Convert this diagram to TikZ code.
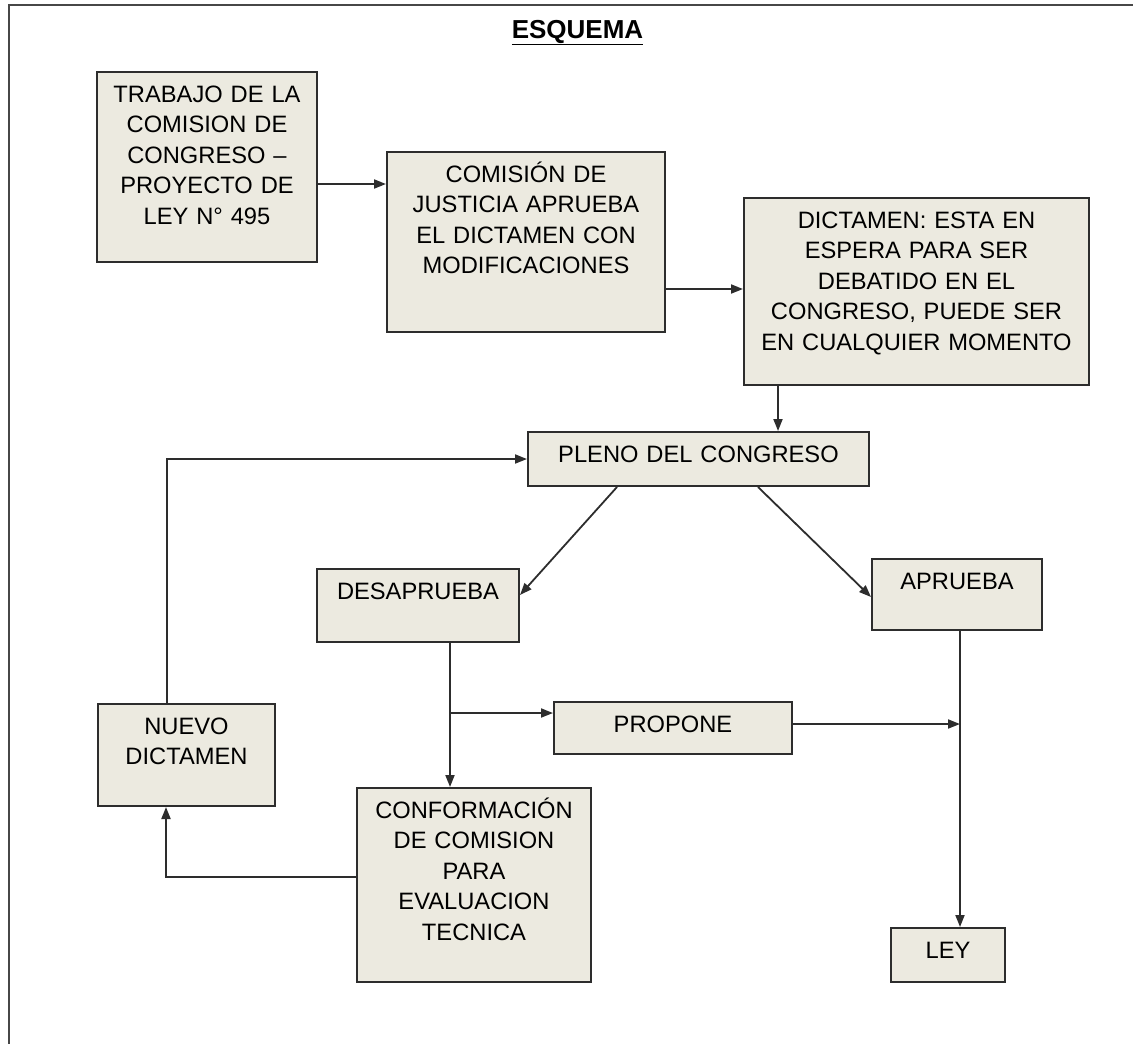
\documentclass[tikz,border=0pt]{standalone}
\usepackage{fontspec}
\setmainfont{Liberation Sans}
\usetikzlibrary{arrows.meta}
\definecolor{cajafondo}{RGB}{236,234,224}
\definecolor{linea}{RGB}{45,45,45}
\begin{document}
\begin{tikzpicture}[x=1pt,y=-1pt,line width=1.8pt,>={Triangle[length=12pt,width=9pt]},
	main box/.style={draw=linea,line width=2pt,fill=cajafondo,anchor=north west,align=center,inner sep=0pt,text height=30pt,font=\fontsize{23.7pt}{30.5pt}\selectfont},
	flecha/.style={->,draw=linea}]
	\useasboundingbox (0,0) rectangle (1133,1044);
	\draw[line width=2pt,draw=black!72] (9,1044) -- (9,4.5) -- (1133,4.5);
	\node[font=\bfseries\fontsize{26pt}{30pt}\selectfont,anchor=base] (titulo) at (577.5,38) {\underline{ESQUEMA}};
	
	\node[main box,text width=220pt,text depth=160pt] at (96,71) (trabajo) {TRABAJO DE LA\\COMISION DE\\CONGRESO --\\PROYECTO DE\\LEY N° 495};
	\node[main box,text width=278pt,text depth=150pt] at (386,151) (comision) {COMISIÓN DE\\JUSTICIA APRUEBA\\EL DICTAMEN CON\\MODIFICACIONES};
	\node[main box,text width=345pt,text depth=157pt] at (743,197) (dictamen) {DICTAMEN: ESTA EN\\ESPERA PARA SER\\DEBATIDO EN EL\\CONGRESO, PUEDE SER\\EN CUALQUIER MOMENTO};
	\node[main box,text width=341pt,text depth=24pt] at (527,431) (pleno) {PLENO DEL CONGRESO};
	\node[main box,text width=202pt,text depth=43pt] at (316,568) (desaprueba) {DESAPRUEBA};
	\node[main box,text width=170pt,text depth=41pt] at (871,558) (aprueba) {APRUEBA};
	\node[main box,text width=238pt,text depth=22pt] at (553,701) (propone) {PROPONE};
	\node[main box,text width=177pt,text depth=72pt] at (97,703) (nuevo) {NUEVO\\DICTAMEN};
	\node[main box,text width=234pt,text depth=164pt] at (356,787) (conf) {CONFORMACIÓN\\DE COMISION\\PARA\\EVALUACION\\TECNICA};
	\node[main box,text width=114pt,text depth=24pt] at (890,927) (ley) {LEY};
	
	% fila superior
	\draw[flecha] ([yshift=-113pt]trabajo.north east) coordinate (a1) -- (a1 -| comision.west);
	\draw[flecha] ([yshift=-138pt]comision.north east) coordinate (a2) -- (a2 -| dictamen.west);
	\draw[flecha] ([xshift=35pt]dictamen.south west) coordinate (a3) -- (a3 |- pleno.north);
	
	% pleno
	\draw[flecha] ([xshift=90pt]pleno.south west) -- ([yshift=-27pt]desaprueba.north east);
	\draw[flecha] ([xshift=231pt]pleno.south west) -- ([yshift=-39pt]aprueba.north west);
	
	% desaprueba
	\coordinate (rama) at (450,713);
	\draw[flecha] (desaprueba.south -| rama) -- (conf.north -| rama);
	\draw[flecha] (rama) -- (rama -| propone.west);
	
	% aprueba
	\coordinate (cruce) at (960,724);
	\draw[flecha] (aprueba.south -| cruce) -- (ley.north -| cruce);
	\draw[flecha] (propone.east |- cruce) -- (cruce);
	
	% nuevo dictamen
	\draw[flecha] ([yshift=-90pt]conf.north west) -| ([xshift=69pt]nuevo.south west);
	\draw[flecha] ([xshift=70pt]nuevo.north west) |- (pleno.west);
	
\end{tikzpicture}
\end{document}
